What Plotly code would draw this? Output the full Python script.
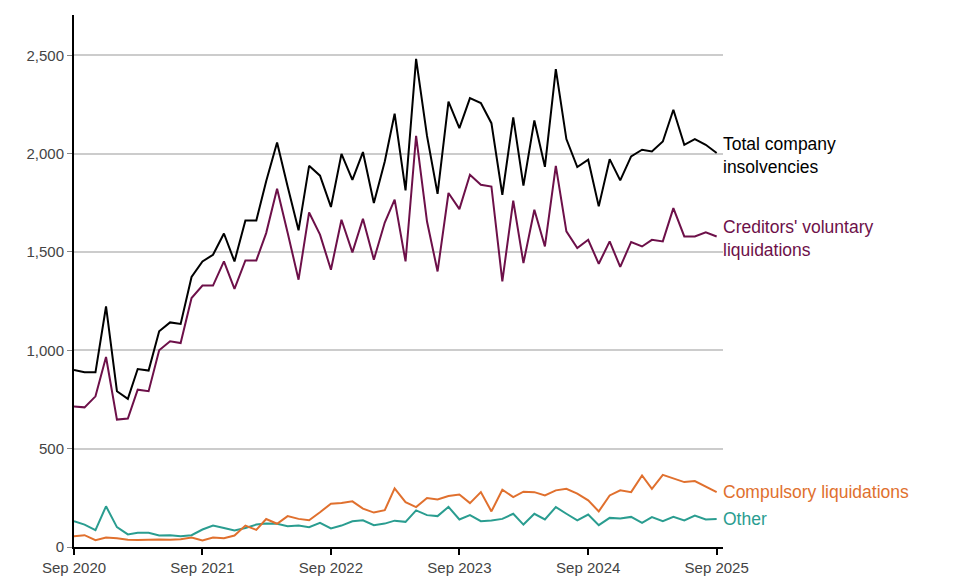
import plotly.graph_objects as go
import pandas as pd

months = pd.date_range("2020-09-01", "2025-09-01", freq="MS").strftime("%Y-%m-%d").tolist()

total = [900, 888, 888, 1223, 792, 753, 905, 897, 1097, 1142, 1134, 1373,
         1452, 1486, 1594, 1452, 1660, 1660, 1860, 2057, 1833, 1610, 1938, 1888,
         1729, 1999, 1867, 2008, 1749, 1960, 2203, 1813, 2482, 2090, 1796, 2265,
         2130, 2282, 2257, 2155, 1791, 2184, 1837, 2169, 1933, 2430, 2074, 1932,
         1969, 1732, 1972, 1864, 1986, 2020, 2011, 2062, 2223, 2045, 2074, 2045,
         2003]

cvl = [715, 710, 766, 966, 648, 653, 800, 792, 1000, 1046, 1037, 1266,
       1329, 1329, 1452, 1312, 1457, 1457, 1596, 1822, 1598, 1359, 1701, 1588,
       1410, 1664, 1498, 1669, 1461, 1650, 1766, 1452, 2091, 1655, 1401, 1800,
       1718, 1893, 1842, 1833, 1351, 1761, 1444, 1715, 1528, 1938, 1605, 1520,
       1562, 1440, 1554, 1424, 1551, 1528, 1562, 1554, 1723, 1579, 1579, 1600,
       1579]

compulsory = [55, 60, 35, 48, 45, 37, 35, 38, 38, 37, 40, 48,
              33, 48, 45, 58, 109, 87, 142, 118, 157, 143, 136, 177,
              220, 224, 232, 195, 175, 187, 298, 228, 203, 249, 242, 259,
              267, 223, 279, 181, 291, 254, 281, 279, 262, 288, 296, 271,
              237, 181, 262, 288, 279, 364, 296, 367, 347, 330, 335, 308,
              279]

other = [131, 114, 86, 207, 101, 64, 72, 72, 58, 60, 55, 60,
         89, 109, 97, 84, 97, 114, 119, 118, 106, 109, 101, 123,
         94, 109, 131, 136, 111, 119, 134, 128, 186, 162, 157, 204,
         140, 162, 131, 135, 143, 169, 114, 169, 140, 203, 169, 135,
         165, 111, 148, 145, 153, 123, 152, 131, 153, 135, 160, 140,
         143]

tick_vals = ["2020-09-01", "2021-09-01", "2022-09-01", "2023-09-01", "2024-09-01", "2025-09-01"]
tick_text = ["Sep 2020", "Sep 2021", "Sep 2022", "Sep 2023", "Sep 2024", "Sep 2025"]

series = [
    ("Other", other, "#2a9d90"),
    ("Compulsory liquidations", compulsory, "#e0702e"),
    ("Creditors' voluntary liquidations", cvl, "#6d1049"),
    ("Total company insolvencies", total, "#000000"),
]

fig = go.Figure()
for name, vals, col in series:
    fig.add_trace(go.Scatter(x=months, y=vals, mode="lines", name=name,
                             line=dict(color=col, width=2)))

font = "Liberation Sans, Arial, sans-serif"
labels = [
    ("Total company<br>insolvencies", 1989, "#000000"),
    ("Creditors' voluntary<br>liquidations", 1567, "#6d1049"),
    ("Compulsory liquidations", 282, "#e0702e"),
    ("Other", 140, "#2a9d90"),
]
for txt, yv, col in labels:
    fig.add_annotation(x=1, xref="paper", y=yv, yref="y", text=txt, showarrow=False,
                       xanchor="left", yanchor="middle", align="left", xshift=-1,
                       borderpad=0,
                       font=dict(family=font, size=17.5, color=col))

fig.update_layout(
    width=962, height=587,
    margin=dict(l=66, r=247, t=7, b=48),
    paper_bgcolor="white", plot_bgcolor="white",
    showlegend=False,
    font=dict(family=font, size=15, color="#444"),
    xaxis=dict(type="date", range=["2020-09-01", "2025-09-19"],
               tickvals=tick_vals, ticktext=tick_text,
               showgrid=False, zeroline=False,
               showline=True, linecolor="black", linewidth=2,
               ticks="outside", ticklen=6, tickwidth=2, tickcolor="black",
               tickfont=dict(size=15, color="#444")),
    yaxis=dict(range=[0, 2705], tickvals=[0, 500, 1000, 1500, 2000, 2500],
               tickformat=",d", showgrid=True, gridcolor="#cccccc", gridwidth=1.5,
               zeroline=False, showline=True, linecolor="black", linewidth=2,
               ticks="outside", ticklen=5, tickwidth=1, tickcolor="#888",
               tickfont=dict(size=15, color="#444")),
)

fig.write_html("out.html")
